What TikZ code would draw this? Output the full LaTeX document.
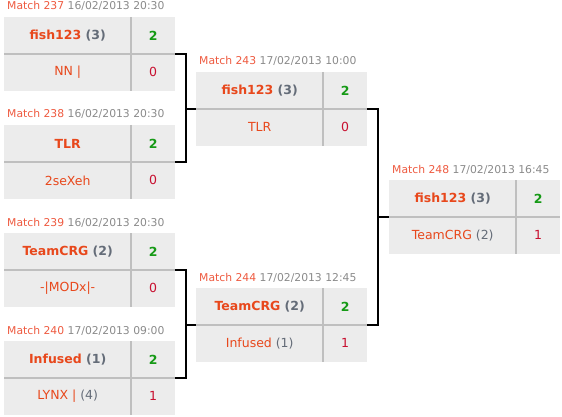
\documentclass[tikz,border=0pt]{standalone}
\usepackage{fontspec}
\setmainfont{DejaVu Sans}
\usetikzlibrary{calc}
\definecolor{cellbg}{HTML}{ECECEC}
\definecolor{divgray}{HTML}{BFBFBF}
\definecolor{teamred}{HTML}{E8481C}
\definecolor{seedgray}{HTML}{646C78}
\definecolor{matchred}{HTML}{EE5A40}
\definecolor{dategray}{HTML}{8A8A8A}
\definecolor{wingreen}{HTML}{169A16}
\definecolor{losered}{HTML}{C81030}
\newcommand{\seed}[1]{\textcolor{seedgray}{#1}}
% id, top left, match no, date, winner, loser, loser score
\newcommand{\matchbox}[7]{%
\node[namecell,anchor=north west,font=\namefont\bfseries] (#1a) at (#2) {#5};
\node[scorecell,anchor=west,text=wingreen,font=\namefont\bfseries] (#1as) at (#1a.east) {2};
\node[namecell,anchor=north] (#1b) at (#1a.south) {#6};
\node[scorecell,anchor=west,text=losered] (#1bs) at (#1b.east) {#7};
\draw[divline] (#1a.south west) -- (#1as.south east);
\draw[divline] (#1as.north west) -- (#1bs.south west);
\node[matchtitle,anchor=base west] (#1t) at ($(#1a.north west)+(3,-7)$) {\textcolor{matchred}{Match #3} #4};
}
\newcommand{\namefont}{\fontsize{12.5}{14}\selectfont}
\tikzset{
namecell/.style={fill=cellbg,minimum width=127pt,minimum height=36.5pt,inner sep=0pt,text=teamred,font=\namefont},
scorecell/.style={fill=cellbg,minimum width=43pt,minimum height=36.5pt,inner sep=0pt,font=\namefont},
divline/.style={draw=divgray,line width=2pt},
matchtitle/.style={inner sep=0pt,text=dategray,font=\fontsize{10.8}{12}\selectfont},
bracket/.style={draw=black,line width=2pt}
}
\begin{document}
\begin{tikzpicture}[x=1pt,y=-1pt]
\useasboundingbox (0,0) rectangle (562,417);
\matchbox{m237}{4,17}{237}{16/02/2013 20:30}{fish123 \seed{(3)}}{NN |}{0}
\matchbox{m238}{4,125}{238}{16/02/2013 20:30}{TLR}{2seXeh}{0}
\matchbox{m239}{4,233}{239}{16/02/2013 20:30}{TeamCRG \seed{(2)}}{-|MODx|-}{0}
\matchbox{m240}{4,341}{240}{17/02/2013 09:00}{Infused \seed{(1)}}{LYNX | \seed{(4)}}{1}
\matchbox{m243}{196,72}{243}{17/02/2013 10:00}{fish123 \seed{(3)}}{TLR}{0}
\matchbox{m244}{196,288}{244}{17/02/2013 12:45}{TeamCRG \seed{(2)}}{Infused \seed{(1)}}{1}
\matchbox{m248}{389,180}{248}{17/02/2013 16:45}{fish123 \seed{(3)}}{TeamCRG \seed{(2)}}{1}
\coordinate (j1) at ($(m237as.south east)+(11,0)$);
\draw[bracket] (m237as.south east) -- (j1) |- (m238as.south east);
\draw[bracket] (j1 |- m243a.south west) -- (m243a.south west);
\coordinate (j2) at ($(m239as.south east)+(11,0)$);
\draw[bracket] (m239as.south east) -- (j2) |- (m240as.south east);
\draw[bracket] (j2 |- m244a.south west) -- (m244a.south west);
\coordinate (j3) at ($(m243as.south east)+(11,0)$);
\draw[bracket] (m243as.south east) -- (j3) |- (m244as.south east);
\draw[bracket] (j3 |- m248a.south west) -- (m248a.south west);
\end{tikzpicture}
\end{document}
